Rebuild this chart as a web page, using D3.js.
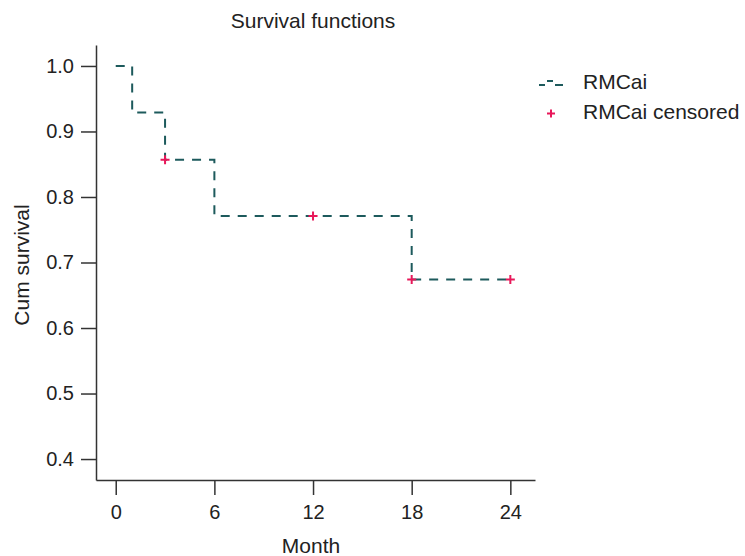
<!DOCTYPE html>
<html>
<head>
<meta charset="utf-8">
<script src="https://cdn.jsdelivr.net/npm/d3@7"></script>
<style>
  body { margin: 0; background: #fff; }
  svg text { font-family: "Liberation Sans", Arial, sans-serif; fill: #222; }
</style>
</head>
<body>
<div id="chart"></div>
<script>
// step curve points (month, cumulative survival)
var step_months = [0, 1, 3, 6, 18, 24]
var step_survival = [1.0, 0.929, 0.857, 0.771, 0.674, 0.674]
// censored observations
var censor_months = [3, 12, 18, 24]
var censor_survival = [0.857, 0.771, 0.674, 0.674]
var x_ticks = [0, 6, 12, 18, 24]
var y_ticks = [0.4, 0.5, 0.6, 0.7, 0.8, 0.9, 1.0]

var width = 745, height = 556
var margin = { top: 45, right: 210, bottom: 76, left: 96 }
var font_size = "21px"
var tick_font_size = "20px"

var svg = d3.select("#chart").append("svg")
    .attr("width", width)
    .attr("height", height)

var x = d3.scaleLinear()
    .domain([-1.2, 25.5])
    .range([margin.left, width - margin.right])

var y = d3.scaleLinear()
    .domain([0.368, 1.032])
    .range([height - margin.bottom, margin.top])

// axes
svg.append("g")
    .attr("transform", `translate(0, ${height - margin.bottom})`)
    .call(d3.axisBottom(x).tickValues(x_ticks).tickSize(15).tickSizeOuter(0).tickPadding(10))
svg.append("g")
    .attr("transform", `translate(${margin.left}, 0)`)
    .call(d3.axisLeft(y).tickValues(y_ticks).tickFormat(d3.format(".1f")).tickSize(15).tickSizeOuter(0).tickPadding(7))

svg.selectAll(".domain, .tick line").attr("stroke", "#333").attr("stroke-width", 1.5)
svg.selectAll(".tick text")
    .attr("fill", "#222")
    .style("font-size", tick_font_size)
    .style("font-family", "'Liberation Sans', Arial, sans-serif")

// the step line
var stepData = step_months.map(function (d, i) { return { "m": d, "s": step_survival[i] } })
svg.append("path")
    .datum(stepData)
    .attr("d", d3.line().curve(d3.curveStepAfter).x(function (d) { return x(d.m) }).y(function (d) { return y(d.s) }))
    .attr("fill", "none")
    .attr("stroke", "#1d5a5c")
    .attr("stroke-width", 2)
    .attr("stroke-dasharray", "9,8")

// censor marks
censor_months.forEach(function (m, i) {
    var cx = x(m), cy = y(censor_survival[i])
    svg.append("path")
        .attr("d", `M${cx - 4.5},${cy}H${cx + 4.5}M${cx},${cy - 4.5}V${cy + 4.5}`)
        .attr("stroke", "#e8185a")
        .attr("stroke-width", 2)
})

// titles
svg.append("text").attr("x", 313).attr("y", 28).attr("text-anchor", "middle")
    .style("font-size", font_size).text("Survival functions")
svg.append("text").attr("x", 311).attr("y", 553).attr("text-anchor", "middle")
    .style("font-size", font_size).text("Month")
svg.append("text").attr("transform", "translate(29, 265) rotate(-90)").attr("text-anchor", "middle")
    .style("font-size", font_size).text("Cum survival")

// legend
var legend = svg.append("g")
legend.append("path")
    .attr("d", "M539,85H545M547,81H553M555,85H563")
    .attr("stroke", "#1d5a5c").attr("stroke-width", 2).attr("fill", "none")
legend.append("path")
    .attr("d", "M547,113.5H555M551,109.5V117.5")
    .attr("stroke", "#e8185a").attr("stroke-width", 2)
legend.append("text").attr("x", 583).attr("y", 89).style("font-size", font_size).text("RMCai")
legend.append("text").attr("x", 583).attr("y", 119).style("font-size", font_size).text("RMCai censored")
</script>
</body>
</html>
